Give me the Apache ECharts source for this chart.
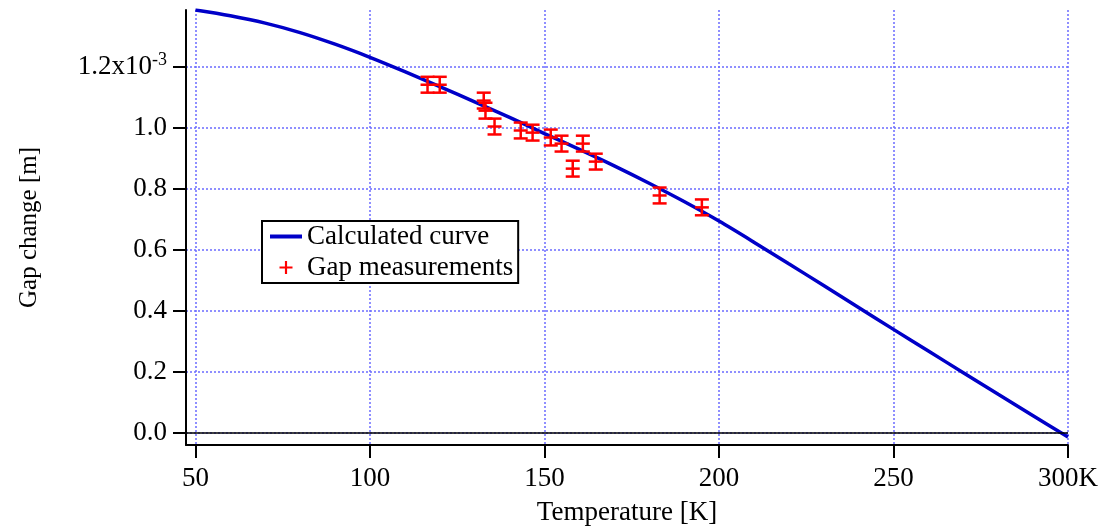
<!DOCTYPE html>
<html>
<head>
<meta charset="utf-8">
<script src="https://cdn.jsdelivr.net/npm/echarts@6/dist/echarts.min.js"></script>
<style>
html,body{margin:0;padding:0;background:#fff;}
#chart{width:1104px;height:528px;}
</style>
</head>
<body>
<div id="chart"></div>
<script>
// Values in units of 1e-3 m
const curveT = [50,60,70,80,90,100,110,120,130,140,150,160,170,180,190,200,210,220,230,240,250,260,270,280,290,300];
const curveV = [1.387,1.368,1.344,1.313,1.275,1.232,1.185,1.136,1.086,1.035,0.982,0.930,0.876,0.819,0.759,0.695,0.626,0.555,0.484,0.412,0.340,0.269,0.198,0.127,0.057,-0.013];
const measT = [116.5,120.0,132.6,133.1,135.7,143.2,146.6,151.8,154.9,158.1,161.0,164.7,183.0,195.1];
const measV = [1.142,1.142,1.090,1.057,1.005,0.992,0.985,0.969,0.949,0.867,0.949,0.890,0.779,0.740];
const measErr = [0.026,0.026,0.026,0.026,0.026,0.026,0.026,0.026,0.026,0.026,0.026,0.026,0.026,0.026];
const xTicks = [50,100,150,200,250,300];
const yTicks = [0,0.2,0.4,0.6,0.8,1.0,1.2];

const FONT = "'Liberation Serif','Times New Roman',serif";
const chart = echarts.init(document.getElementById('chart'));
const curveData = curveT.map((t,i)=>[t,curveV[i]]);
const measData = measT.map((t,i)=>[t,measV[i],measErr[i]]);

chart.setOption({
  animation:false,
  backgroundColor:'#fff',
  grid:{left:186,right:36,top:10,bottom:83,containLabel:false,outerBoundsMode:'none'},
  legend:{
    left:262, top:221, orient:'vertical',
    backgroundColor:'#fff', borderColor:'#000', borderWidth:2, borderRadius:0,
    padding:[2,5,2,8], itemWidth:32, itemHeight:13, itemGap:4, itemTextGap:6,
    textStyle:{fontFamily:FONT,fontSize:27,color:'#000'},
    data:[
      {name:'Calculated curve', icon:'path://M0,0H32V4H0Z', itemStyle:{color:'#0000c8',borderWidth:0}},
      {name:'Gap measurements', icon:'path://M5,0H7V12H5Z M0,5H12V7H0Z', itemStyle:{color:'#ff0000',borderWidth:0}}
    ]
  },
  xAxis:{
    type:'value', min:47.3, max:300,
    name:'Temperature [K]', nameLocation:'middle', nameGap:54,
    nameTextStyle:{fontFamily:FONT,fontSize:27,color:'#000'},
    axisLine:{show:true,onZero:false,lineStyle:{color:'#000',width:2}},
    axisTick:{show:true,inside:false,length:13,lineStyle:{color:'#000',width:2},customValues:xTicks},
    axisLabel:{margin:20,fontFamily:FONT,fontSize:27,color:'#000',customValues:xTicks,
      formatter:v=> v===300 ? '300K' : String(v)},
    splitLine:{show:true,lineStyle:{color:'#6b6bff',width:1.5,type:[2,2]}}
  },
  yAxis:{
    type:'value', min:-0.039, max:1.387,
    name:'Gap change [m]', nameLocation:'middle', nameGap:144, nameRotate:90,
    nameTextStyle:{fontFamily:FONT,fontSize:25,color:'#000'},
    axisLine:{show:true,onZero:false,lineStyle:{color:'#000',width:2}},
    axisTick:{show:true,inside:false,length:13,lineStyle:{color:'#000',width:2},customValues:yTicks},
    axisLabel:{margin:19,fontFamily:FONT,fontSize:27,color:'#000',customValues:yTicks,
      formatter:v=> Math.abs(v-1.2)<1e-9 ? '{a|1.2x10}{b|-3}' : v.toFixed(1),
      rich:{a:{fontFamily:FONT,fontSize:27,color:'#000'},b:{fontFamily:FONT,fontSize:18,color:'#000',padding:[0,0,14,0]}}},
    splitLine:{show:true,lineStyle:{color:'#6b6bff',width:1.5,type:[2,2]}}
  },
  series:[
    {
      name:'Calculated curve', type:'line', data:curveData, smooth:0.3, showSymbol:false,
      lineStyle:{color:'#0000c8',width:3.5}, itemStyle:{color:'#0000c8'}, z:3,
      markLine:{silent:true,symbol:'none',label:{show:false},
        lineStyle:{color:'#000',width:1.5,type:'solid'},data:[{yAxis:0}]}
    },
    {
      name:'Gap measurements', type:'custom', data:measData, z:5,
      itemStyle:{color:'#ff0000'},
      renderItem:function(params,api){
        const x=api.value(0), y=api.value(1), e=api.value(2);
        const c=api.coord([x,y]), t=api.coord([x,y+e]), b=api.coord([x,y-e]);
        const hw=7;
        const st={stroke:'#ff0000',lineWidth:2.5};
        return {type:'group',children:[
          {type:'line',shape:{x1:c[0],y1:t[1],x2:c[0],y2:b[1]},style:st},
          {type:'line',shape:{x1:c[0]-hw,y1:t[1],x2:c[0]+hw,y2:t[1]},style:st},
          {type:'line',shape:{x1:c[0]-hw,y1:b[1],x2:c[0]+hw,y2:b[1]},style:st},
          {type:'line',shape:{x1:c[0]-hw,y1:c[1],x2:c[0]+hw,y2:c[1]},style:st}
        ]};
      }
    }
  ]
});
</script>
</body>
</html>
